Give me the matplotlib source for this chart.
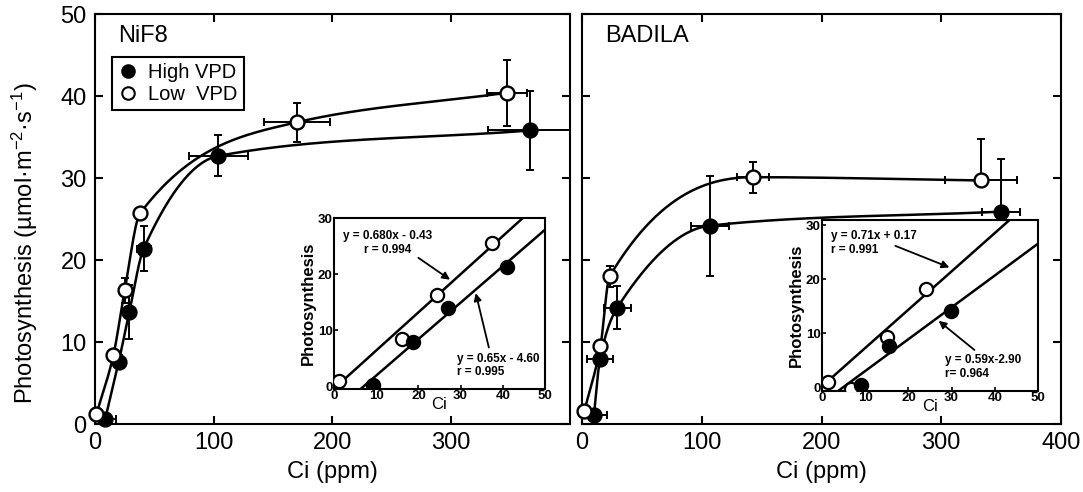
import numpy as np
import matplotlib
matplotlib.use("Agg")
import matplotlib.pyplot as plt
from matplotlib.lines import Line2D

plt.rcParams['font.family'] = ['Liberation Sans', 'DejaVu Sans']
plt.rcParams['mathtext.fontset'] = 'custom'
plt.rcParams['mathtext.rm'] = 'Liberation Sans'
plt.rcParams['mathtext.it'] = 'Liberation Sans:italic'
plt.rcParams['mathtext.bf'] = 'Liberation Sans:bold'

# ---- main panels: Ci (ppm) vs photosynthesis ----
# NiF8, high VPD (filled)
nif8_hi_ci = [8.6, 20, 29, 41, 104, 366]
nif8_hi_a = [0.6, 7.6, 13.7, 21.4, 32.7, 35.8]
nif8_hi_xerr = [9, 2, 3, 6, 24.5, 35]
nif8_hi_yerr = [0, 0.8, 3.3, 2.8, 2.5, 4.8]
# NiF8, low VPD (open)
nif8_lo_ci = [1.2, 15.5, 25, 38, 170, 347]
nif8_lo_a = [1.2, 8.4, 16.3, 25.7, 36.8, 40.4]
nif8_lo_xerr = [0, 2, 3, 0, 28, 17]
nif8_lo_yerr = [0, 0, 1.5, 0, 2.4, 4.0]

# BADILA, high VPD (filled)
bad_hi_ci = [10, 15, 29.5, 107, 350]
bad_hi_a = [1.1, 7.9, 14.2, 24.2, 25.9]
bad_hi_xerr = [11, 11, 11.5, 16, 16]
bad_hi_yerr = [0, 0, 2.6, 6.1, 6.4]
# BADILA, low VPD (open)
bad_lo_ci = [2, 15.4, 23, 142.7, 333]
bad_lo_a = [1.6, 9.5, 18.0, 30.1, 29.7]
bad_lo_xerr = [0, 0, 0, 13.5, 30]
bad_lo_yerr_low = [0, 0, 1.3, 1.9, 0]
bad_lo_yerr_up = [0, 0, 1.3, 1.9, 5.1]

# ---- insets: low Ci region with regressions ----
in_nif8_lo_ci = [1.3, 16, 24.5, 37.5]
in_nif8_lo_a = [1.0, 8.4, 16.2, 25.6]
in_nif8_hi_ci = [9.3, 18.8, 27, 41]
in_nif8_hi_a = [0.3, 7.8, 13.9, 21.3]
in_bad_lo_ci = [1.3, 6.6, 15.1, 24]
in_bad_lo_a = [0.9, -0.3, 9.4, 18.2]
in_bad_hi_ci = [9.1, 15.5, 29.8]
in_bad_hi_a = [0.4, 7.6, 14.2]

nif8_slopes = [0.680, 0.65]      # low, high
nif8_icpts = [-0.43, -4.60]
bad_slopes = [0.71, 0.59]
bad_icpts = [0.17, -2.90]

nif8_eq = ["y = 0.680x - 0.43\nr = 0.994", "y = 0.65x - 4.60\nr = 0.995"]
bad_eq = ["y = 0.71x + 0.17\nr = 0.991", "y = 0.59x-2.90\nr= 0.964"]


def pchip(x, y, xs):
    # monotone cubic through the points (Fritsch-Carlson)
    x = np.asarray(x, float)
    y = np.asarray(y, float)
    h = np.diff(x)
    d = np.diff(y) / h
    m = np.zeros_like(y)
    for k in range(1, len(x) - 1):
        if d[k - 1] * d[k] > 0:
            w1 = 2 * h[k] + h[k - 1]
            w2 = h[k] + 2 * h[k - 1]
            m[k] = (w1 + w2) / (w1 / d[k - 1] + w2 / d[k])
    m[0] = d[0]
    m[-1] = d[-1]
    i = np.clip(np.searchsorted(x, xs) - 1, 0, len(h) - 1)
    t = (xs - x[i]) / h[i]
    h00 = 2 * t**3 - 3 * t**2 + 1
    h10 = t**3 - 2 * t**2 + t
    h01 = -2 * t**3 + 3 * t**2
    h11 = t**3 - t**2
    return h00 * y[i] + h10 * h[i] * m[i] + h01 * y[i + 1] + h11 * h[i] * m[i + 1]


def style_axes(ax, lw=1.5, length=6):
    for s in ax.spines.values():
        s.set_linewidth(lw)
    ax.tick_params(direction='in', top=True, right=True, length=length, width=lw)


def draw_series(ax, ci, a, xerr, yerr, face):
    xs = np.linspace(ci[0], ci[-1], 400)
    ax.plot(xs, pchip(ci, a, xs), color='k', lw=1.8, zorder=2)
    ax.errorbar(ci, a, xerr=xerr, yerr=yerr, fmt='none', ecolor='k',
                elinewidth=1.4, capsize=3, capthick=1.4, zorder=3)
    ax.plot(ci, a, 'o', ms=10, mfc=face, mec='k', mew=1.7, zorder=4,
            clip_on=False)


fig = plt.figure(figsize=(10.83, 4.92), dpi=100)
ax1 = fig.add_axes([0.0877, 0.1382, 0.4386, 0.8333])
ax2 = fig.add_axes([0.5374, 0.1382, 0.4423, 0.8333])

draw_series(ax1, nif8_hi_ci, nif8_hi_a, nif8_hi_xerr, nif8_hi_yerr, 'k')
draw_series(ax1, nif8_lo_ci, nif8_lo_a, nif8_lo_xerr, nif8_lo_yerr, 'white')
draw_series(ax2, bad_hi_ci, bad_hi_a, bad_hi_xerr, bad_hi_yerr, 'k')
draw_series(ax2, bad_lo_ci, bad_lo_a, bad_lo_xerr,
            [bad_lo_yerr_low, bad_lo_yerr_up], 'white')

for ax in (ax1, ax2):
    ax.set_xlim(0, 400)
    ax.set_ylim(0, 50)
    ax.set_yticks([0, 10, 20, 30, 40, 50])
    ax.set_xlabel('Ci (ppm)', fontsize=17, labelpad=5)
    style_axes(ax)
    ax.tick_params(labelsize=17, pad=6)

ax1.set_xticks([0, 100, 200, 300])
ax2.set_xticks([0, 100, 200, 300, 400])
ax2.tick_params(labelleft=False)
ax1.set_ylabel('Photosynthesis (µmol·m$^{-2}$·s$^{-1}$)', fontsize=17)
ax1.yaxis.set_label_coords(-0.115, 0.44)

ax1.text(0.048, 0.932, 'NiF8', transform=ax1.transAxes, fontsize=17, va='baseline')
ax2.text(0.048, 0.932, 'BADILA', transform=ax2.transAxes, fontsize=17, va='baseline')

handles = [Line2D([], [], ls='none', marker='o', ms=9, mfc='k', mec='k', mew=1.5),
           Line2D([], [], ls='none', marker='o', ms=9, mfc='white', mec='k', mew=1.5)]
leg = ax1.legend(handles, ['High VPD', 'Low  VPD'], loc='upper left',
                 bbox_to_anchor=(0.036, 0.895), borderaxespad=0, fontsize=14.5,
                 fancybox=False, framealpha=1, edgecolor='k', handlelength=1.0,
                 handletextpad=0.5, borderpad=0.3, labelspacing=0.15)
leg.get_frame().set_linewidth(1.5)

# ---- insets ----
in1 = fig.add_axes([0.3084, 0.2093, 0.1948, 0.3476])
in2 = fig.add_axes([0.7590, 0.2053, 0.1994, 0.3476])

insets = [
    (in1, in_nif8_lo_ci, in_nif8_lo_a, in_nif8_hi_ci, in_nif8_hi_a,
     nif8_slopes, nif8_icpts, (-0.5, 30)),
    (in2, in_bad_lo_ci, in_bad_lo_a, in_bad_hi_ci, in_bad_hi_a,
     bad_slopes, bad_icpts, (-0.7, 31)),
]
for ax, lci, la, hci, ha, slopes, icpts, ylim in insets:
    xs = np.array([-1.0, 51.0])
    for m, b in zip(slopes, icpts):
        ax.plot(xs, m * xs + b, color='k', lw=1.8, zorder=2)
    ax.plot(lci, la, 'o', ms=9.5, mfc='white', mec='k', mew=1.6, zorder=4)
    ax.plot(hci, ha, 'o', ms=9.5, mfc='k', mec='k', mew=1.6, zorder=4)
    ax.set_xlim(0, 50)
    ax.set_ylim(*ylim)
    ax.set_xticks([0, 10, 20, 30, 40, 50])
    ax.set_yticks([0, 10, 20, 30])
    for s in ax.spines.values():
        s.set_linewidth(1.5)
    ax.tick_params(direction='in', length=3, width=1.2, labelsize=9.5, pad=1)
    for lab in ax.get_xticklabels() + ax.get_yticklabels():
        lab.set_fontweight('bold')
    ax.set_xlabel('Ci', fontsize=12, labelpad=-4)
    ax.set_ylabel('Photosynthesis', fontsize=12, fontweight='bold', labelpad=1)

arrow = dict(arrowstyle='-|>', color='k', lw=1.3, shrinkA=0, shrinkB=0,
             mutation_scale=11)
eq_kw = dict(fontsize=8.5, fontweight='bold', va='center', ha='left')
in1.text(2.2, 25.6, nif8_eq[0], multialignment='center', **eq_kw)
in1.annotate('', xy=(27.5, 19.0), xytext=(20, 22.9), arrowprops=arrow)
in1.annotate('', xy=(33.6, 16.6), xytext=(36.7, 6.9), arrowprops=arrow)
in1.text(29.2, 3.7, nif8_eq[1], multialignment='left', **eq_kw)

in2.text(2.0, 26.8, bad_eq[0], multialignment='left', **eq_kw)
in2.annotate('', xy=(29.5, 22.2), xytext=(17, 26.2), arrowprops=arrow)
in2.annotate('', xy=(27, 12.3), xytext=(35.3, 6.9), arrowprops=arrow)
in2.text(28.4, 3.75, bad_eq[1], multialignment='left', **eq_kw)

fig.savefig('out.png', dpi=100)
